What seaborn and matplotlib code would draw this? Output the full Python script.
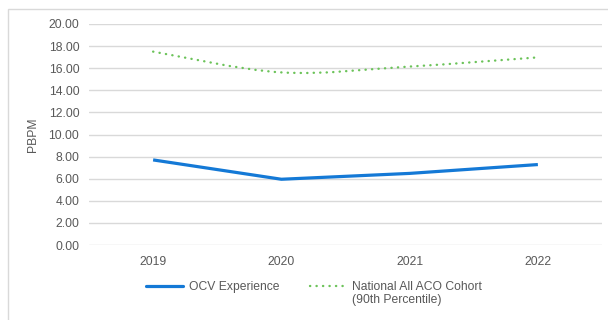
import numpy as np
import pandas as pd
import seaborn as sns
import matplotlib.pyplot as plt
from matplotlib.path import Path
from matplotlib.patches import PathPatch, Rectangle
from matplotlib.lines import Line2D

years = ["2019", "2020", "2021", "2022"]
ocv_experience = [7.70, 5.95, 6.48, 7.28]
national_p90 = [17.50, 15.62, 16.15, 16.98]

ocv_label = "OCV Experience"
nat_label = ["National All ACO Cohort", "(90th Percentile)"]

BLUE = "#1479d6"
GREEN = "#6cc35a"
GRID = "#d9d9d9"
TEXT = "#595959"
FS = 8.7

sns.set_theme(style="white")
plt.rcParams["font.family"] = ["Liberation Sans", "DejaVu Sans"]

fig = plt.figure(figsize=(6.08, 3.2), dpi=100)
ax = fig.add_axes([89 / 608, 1 - 245 / 320, (602 - 89) / 608, (245 - 24) / 320])

df = pd.DataFrame({"year": years, "value": ocv_experience})
sns.lineplot(data=df, x="year", y="value", ax=ax, color=BLUE, linewidth=2.3,
             solid_capstyle="butt", sort=False, legend=False)


def smooth_path(xs, ys):
    """Cubic Bezier through the points (Catmull-Rom style tangents)."""
    pts = np.column_stack([xs, ys]).astype(float)
    n = len(pts)
    verts = [pts[0]]
    codes = [Path.MOVETO]
    for i in range(n - 1):
        p0 = pts[max(i - 1, 0)]
        p1 = pts[i]
        p2 = pts[i + 1]
        p3 = pts[min(i + 2, n - 1)]
        c1 = p1 + (p2 - p0) / 6.0
        c2 = p2 - (p3 - p1) / 6.0
        verts += [c1, c2, p2]
        codes += [Path.CURVE4] * 3
    return Path(verts, codes)


DOTS = (0, (0.1, 2.65))
xpos = np.arange(len(years))
ax.add_patch(PathPatch(smooth_path(xpos, national_p90), fill=False,
                       edgecolor=GREEN, linewidth=1.7,
                       linestyle=DOTS, capstyle="round"))

ax.set_xlim(-0.5, len(years) - 0.5)
ax.set_ylim(0, 20)
yt = np.arange(0, 20.01, 2)
ax.set_yticks(yt)
ax.set_yticklabels([f"{v:.2f}" for v in yt])
ax.yaxis.grid(True, color=GRID, linewidth=1)
ax.set_axisbelow(True)
for s in ax.spines.values():
    s.set_visible(False)
ax.tick_params(axis="x", length=0, labelsize=FS, colors=TEXT, pad=8)
ax.tick_params(axis="y", length=0, labelsize=FS, colors=TEXT, pad=7)
ax.set_xlabel("")
ax.set_ylabel("PBPM", fontsize=FS, color=TEXT, labelpad=7)

handles = [
    Line2D([], [], color=BLUE, linewidth=2.3),
    Line2D([], [], color=GREEN, linewidth=1.7, linestyle=DOTS,
           dash_capstyle="round"),
]
leg = fig.legend(handles, [ocv_label, nat_label[0]], loc="center left",
                 bbox_to_anchor=(146 / 608, 1 - 287 / 320), ncol=2,
                 frameon=False, fontsize=FS, handlelength=3.1,
                 handletextpad=0.45, columnspacing=2.5, borderpad=0,
                 borderaxespad=0, labelcolor=TEXT)

# second line of the cohort label, aligned under the first
fig.canvas.draw()
bb = leg.get_texts()[1].get_window_extent()
fig.text(bb.x0 / fig.bbox.width, 1 - 300 / 320, nat_label[1],
         fontsize=FS, color=TEXT, ha="left", va="center")

fig.add_artist(Rectangle((8 / 608, -0.1), 1.0, 1 - 9 / 320 + 0.1,
                         transform=fig.transFigure, fill=False,
                         edgecolor=GRID, linewidth=1, clip_on=False))

fig.savefig("out.png", dpi=100)
